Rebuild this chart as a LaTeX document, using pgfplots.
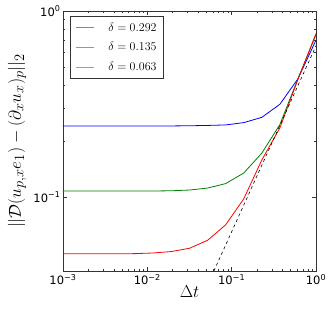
\documentclass[border=0pt]{standalone}
\usepackage{pgfplots}
\pgfplotsset{compat=1.18}
\usepackage{fontspec}
\setmainfont{DejaVu Sans}
\definecolor{lgblue}{RGB}{120,120,255}
\definecolor{lggreen}{RGB}{110,180,110}
\definecolor{lgred}{RGB}{255,120,120}
\begin{document}
\begin{tikzpicture}
\useasboundingbox (-63pt,-44pt) rectangle (269pt,271pt);
\begin{axis}[
  at={(0pt,0pt)}, anchor=south west,
  scale only axis,
  width=253pt, height=260pt,
  xmode=log, ymode=log,
  xmin=1e-3, xmax=1, ymin=0.04, ymax=1,
  xtick={0.001,0.01,0.1,1},
  xticklabels={10\textsuperscript{−3},10\textsuperscript{−2},10\textsuperscript{−1},10\textsuperscript{0}},
  ytick={0.1,1},
  yticklabels={10\textsuperscript{−1},10\textsuperscript{0}},
  tick label style={font=\fontsize{11.5}{13}\selectfont},
  yticklabel style={xshift=1pt},
  tick align=inside,
  major tick length=4pt, minor tick length=2pt,
  every tick/.style={black!80, line width=0.5pt},
  axis line style={black!80, line width=0.8pt},
  xlabel={$\Delta t$},
  ylabel={$||\mathcal{D}(u_{p,x}e_1)-(\partial_x u_x)_p||_2$},
  label style={font=\fontsize{19}{22}\selectfont},
  xlabel style={at={(axis description cs:0.5,0)}, anchor=center, yshift=-20.5pt},
  ylabel style={at={(axis description cs:0,0.5)}, anchor=center, yshift=46pt},
  legend style={at={(rel axis cs:0,1)}, anchor=north west, xshift=7pt, yshift=-5.5pt,
    draw=black!80, line width=0.6pt, font=\fontsize{12}{14}\selectfont,
    row sep=6pt, inner xsep=5pt, inner ysep=4pt},
  legend cell align=left,
  clip=true,
]
\addlegendimage{legend image code/.code={\draw[lgblue, line width=1pt] (0pt,0pt) -- (18pt,0pt);}}
\addlegendentry{\hspace{12pt}$\delta = 0.292$}
\addlegendimage{legend image code/.code={\draw[lggreen, line width=1pt] (0pt,0pt) -- (18pt,0pt);}}
\addlegendentry{\hspace{12pt}$\delta = 0.135$}
\addlegendimage{legend image code/.code={\draw[lgred, line width=1pt] (0pt,0pt) -- (18pt,0pt);}}
\addlegendentry{\hspace{12pt}$\delta = 0.063$}
\addplot[blue, line width=0.8pt, forget plot] coordinates {
(1,0.697)(0.6105,0.432)(0.3728,0.315)(0.2276,0.268)(0.1389,0.251)(0.0848,0.244)
(0.0518,0.2425)(0.03162,0.2415)(0.0193,0.241)(0.01179,0.241)(0.0072,0.241)
(0.00439,0.241)(0.00268,0.241)(0.001638,0.241)(0.001,0.241)};
\addplot[green!50!black, line width=0.8pt, forget plot] coordinates {
(1,0.745)(0.6105,0.432)(0.3728,0.245)(0.2276,0.172)(0.1389,0.1345)(0.0848,0.118)
(0.0518,0.1117)(0.03162,0.109)(0.0193,0.108)(0.01179,0.1077)(0.0072,0.1077)
(0.00439,0.1077)(0.00268,0.1077)(0.001638,0.1077)(0.001,0.1077)};
\addplot[red, line width=0.8pt, forget plot] coordinates {
(1,0.757)(0.6105,0.428)(0.3728,0.235)(0.2276,0.158)(0.1389,0.0976)(0.0848,0.0708)
(0.0518,0.0585)(0.03162,0.053)(0.0193,0.0509)(0.01179,0.05)(0.0072,0.0496)
(0.00439,0.0495)(0.00268,0.0495)(0.001638,0.0495)(0.001,0.0495)};
\addplot[black, dashed, line width=0.6pt, forget plot] coordinates {(0.0615,0.04)(1,0.65)};
\end{axis}
\end{tikzpicture}
\end{document}
